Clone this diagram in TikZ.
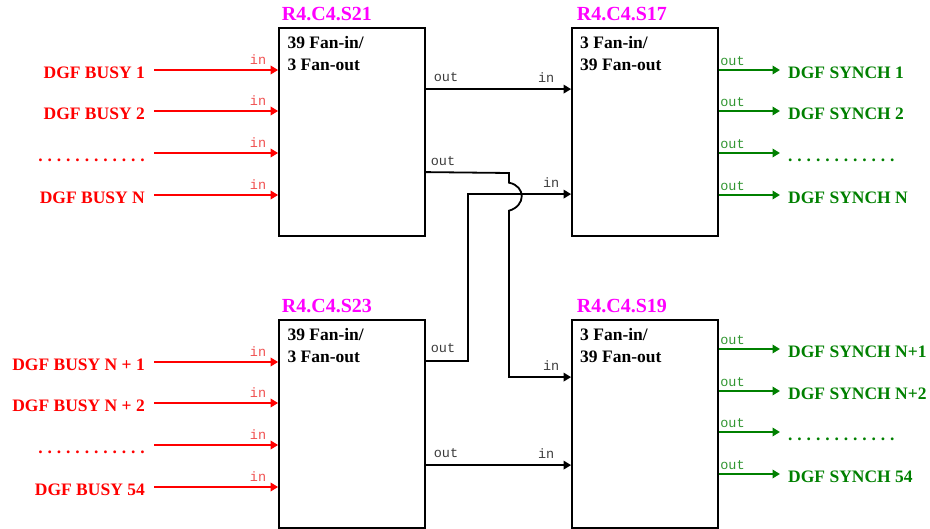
\documentclass[tikz,border=0pt]{standalone}
\usepackage{fontspec}
\setmainfont{Liberation Serif}
\setmonofont{Liberation Mono}
\usetikzlibrary{arrows.meta,calc}
\definecolor{myred}{RGB}{255,0,0}
\definecolor{mygreen}{RGB}{0,128,0}
\definecolor{lred}{RGB}{240,80,80}
\definecolor{lgreen}{RGB}{50,150,50}
\definecolor{lgray}{RGB}{60,60,60}
\definecolor{mag}{RGB}{255,0,255}
\newcommand\dotrow{.\hspace{4.9pt}.\hspace{4.9pt}.\hspace{4.9pt}.\hspace{4.9pt}.\hspace{4.9pt}.\hspace{4.9pt}.\hspace{4.9pt}.\hspace{4.9pt}.\hspace{4.9pt}.\hspace{4.9pt}.\hspace{4.9pt}.}
\begin{document}
\begin{tikzpicture}[x=1pt,y=-1pt,
  box/.style={draw=black, line width=1.8pt, minimum width=146pt, minimum height=208pt, inner sep=0pt},
  ttl/.style={text=mag, font=\fontsize{20}{20}\selectfont\bfseries, inner sep=0pt, anchor=base west},
  boxtxt/.style={font=\fontsize{17.5}{22}\selectfont\bfseries, align=left, inner sep=0pt, anchor=north west},
  redlab/.style={text=myred, font=\fontsize{17.5}{20}\selectfont\bfseries, inner sep=0pt, anchor=base east},
  greenlab/.style={text=mygreen, font=\fontsize{17.5}{20}\selectfont\bfseries, inner sep=0pt, anchor=base west},
  tip/.style={-{Triangle[length=7.5pt,width=8.5pt]}},
  redarr/.style={draw=myred, line width=1.9pt, tip},
  greenarr/.style={draw=mygreen, line width=1.9pt, tip},
  blkarr/.style={draw=black, line width=1.8pt, tip},
  pinred/.style={text=lred, font=\fontsize{13.5}{13.5}\selectfont\ttfamily, inner sep=0pt},
  pingreen/.style={text=lgreen, font=\fontsize{13.5}{13.5}\selectfont\ttfamily, inner sep=0pt},
  pinblk/.style={text=lgray, font=\fontsize{13.5}{13.5}\selectfont\ttfamily, inner sep=0pt}
]
\useasboundingbox (0,0) rectangle (930,529);

% boxes
\node[box] (s21) at (352,132) {};
\node[box] (s17) at (645,132) {};
\node[box] (s23) at (352,424) {};
\node[box] (s19) at (645,424) {};

% titles
\node[ttl] (t21) at (281.7,20.7) {R4.C4.S21};
\node[ttl] (t17) at (576.7,20.7) {R4.C4.S17};
\node[ttl] (t23) at (281.7,312.7) {R4.C4.S23};
\node[ttl] (t19) at (576.7,312.7) {R4.C4.S19};

% box texts
\node[boxtxt] (x21) at (287.3,36) {39 Fan-in/\\3 Fan-out};
\node[boxtxt] (x17) at (580,36) {3 Fan-in/\\39 Fan-out};
\node[boxtxt] (x23) at (287.3,328) {39 Fan-in/\\3 Fan-out};
\node[boxtxt] (x19) at (580,328) {3 Fan-in/\\39 Fan-out};

% red inputs (upper)
\foreach \n/\y/\t in {1/70/DGF BUSY 1, 2/111/DGF BUSY 2, 3/153/\dotrow, 4/195/DGF BUSY N}{
  \coordinate (ia\n) at (154,\y);
  \node[redlab] (la\n) at (145,\y+8.7) {\t};
  \draw[redarr] (ia\n) -- (ia\n -| s21.west)
     node[pinred, pos=1, anchor=base east, xshift=-11pt, yshift=5pt] {in};
}
% red inputs (lower)
\foreach \n/\y/\t in {1/362/DGF BUSY N + 1, 2/403/DGF BUSY N + 2, 3/445/\dotrow, 4/487/DGF BUSY 54}{
  \coordinate (ib\n) at (154,\y);
  \node[redlab] (lb\n) at (145,\y+8.7) {\t};
  \draw[redarr] (ib\n) -- (ib\n -| s23.west)
     node[pinred, pos=1, anchor=base east, xshift=-11pt, yshift=5pt] {in};
}

% green outputs (upper)
\foreach \n/\y/\t in {1/70/DGF SYNCH 1, 2/111/DGF SYNCH 2, 3/153/\dotrow, 4/195/DGF SYNCH N}{
  \coordinate (oa\n) at (780,\y);
  \node[greenlab] (ga\n) at (788,\y+8.6) {\t};
  \draw[greenarr] (oa\n -| s17.east) -- (oa\n)
     node[pingreen, pos=0, anchor=base west, xshift=0.5pt, yshift=4.6pt] {out};
}
% green outputs (lower)
\foreach \n/\y/\t in {1/349/DGF SYNCH N+1, 2/391/DGF SYNCH N+2, 3/432/\dotrow, 4/474/DGF SYNCH 54}{
  \coordinate (ob\n) at (780,\y);
  \node[greenlab] (gb\n) at (788,\y+8.6) {\t};
  \draw[greenarr] (ob\n -| s19.east) -- (ob\n)
     node[pingreen, pos=0, anchor=base west, xshift=0.5pt, yshift=4.6pt] {out};
}

% black connectors
\coordinate (c1) at ($(s21.north east)+(0,62)$);
\draw[blkarr] (c1) node[pinblk, anchor=base west, xshift=7pt, yshift=7.5pt] {out}
  -- (c1 -| s17.west) node[pinblk, anchor=base east, xshift=-16pt, yshift=7pt] {in};

\coordinate (c2) at ($(s21.north east)+(0,145)$);
\coordinate (c3) at ($(s19.north west)+(0,58)$);
\coordinate (h0) at (509,173);
\coordinate (h1) at (509,182.7);
\coordinate (h2) at (509,210.7);
\draw[blkarr] (c2) node[pinblk, anchor=base west, xshift=4pt, yshift=6.6pt] {out}
  -- (h0) -- (h1) .. controls (526,186) and (526,206) .. (h2)
  -- (h2 |- c3) -- (c3) node[pinblk, anchor=base east, xshift=-11pt, yshift=6.6pt] {in};

\coordinate (c4) at ($(s23.north east)+(0,42)$);
\coordinate (c5) at ($(s17.north west)+(0,167)$);
\coordinate (v0) at (468,300);
\draw[blkarr] (c4) node[pinblk, anchor=base west, xshift=4pt, yshift=8.5pt] {out}
  -- (v0 |- c4) -- (v0 |- c5) -- (c5) node[pinblk, anchor=base east, xshift=-11pt, yshift=7pt] {in};

\coordinate (c6) at ($(s23.north east)+(0,146)$);
\draw[blkarr] (c6) node[pinblk, anchor=base west, xshift=7pt, yshift=7.5pt] {out}
  -- (c6 -| s19.west) node[pinblk, anchor=base east, xshift=-16pt, yshift=7pt] {in};
\end{tikzpicture}
\end{document}
